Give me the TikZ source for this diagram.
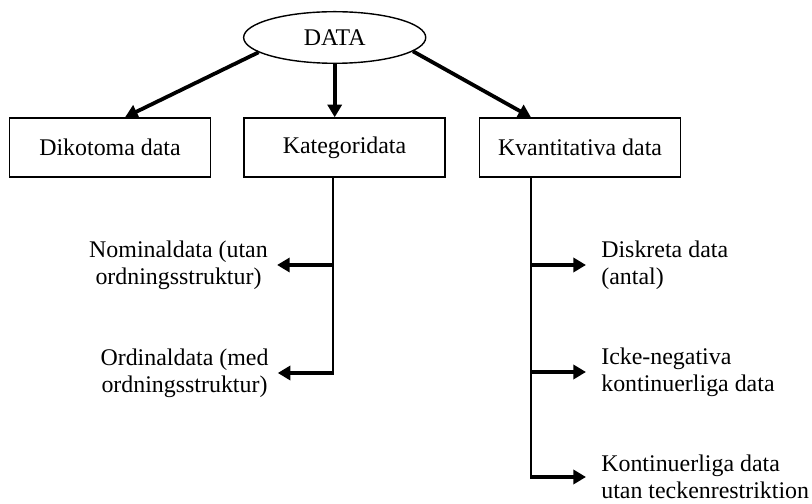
\documentclass[tikz,border=0pt]{standalone}
\usepackage{fontspec}
\setmainfont{Liberation Serif}
\usetikzlibrary{arrows.meta,shapes.geometric}

\tikzset{
  txt/.style={font=\fontsize{17}{19}\selectfont},
  box/.style={txt, draw, line width=1pt, minimum width=143pt, minimum height=42pt, inner sep=0pt},
  leftlab/.style={txt, align=center, inner xsep=6.4pt, inner ysep=0pt},
  rightlab/.style={txt, align=left, anchor=west, inner xsep=10.7pt, inner ysep=0pt},
  branch/.style={line width=1.3pt},
  thickarrow/.style={->, line width=2.3pt}
}

\begin{document}
\begin{tikzpicture}[x=0.025cm, y=-0.025cm, >={Triangle[length=9pt,width=10pt]}]
\useasboundingbox (0,0) rectangle (812,504);
%%%%% Top level %%%%%
\node[txt, ellipse, draw, line width=1pt, minimum width=129.5pt, minimum height=36.7pt, inner sep=0pt] (data) at (334.7,37.5) {DATA};
\node[box] (dik) at (110,147.5) {Dikotoma data};
\node[box] (kat) at (344.5,147.5) {Kategoridata};
\node[box] (kvant) at (580,147.5) {Kvantitativa data};
\coordinate (katbot) at (333,373);
\coordinate (kvbot) at (531,477);
\draw[thickarrow, line width=2.7pt] (data.191) -- ([xshift=10.7pt]dik.north);
\draw[thickarrow, line width=2.7pt] (data.south) -- (data.south |- kat.north);
\draw[thickarrow, line width=2.7pt] (data.350) -- (kvant.north -| kvbot);
%%%%% Kategoridata %%%%%
\node[leftlab] (nom) at (178.5,265) {Nominaldata (utan\\ordningsstruktur)};
\node[leftlab] (ord) at (184.5,373) {Ordinaldata (med\\ordningsstruktur)};
\draw[branch] (kat.south -| katbot) -- (katbot);
\foreach \n in {nom,ord}{
\draw[thickarrow] ([xshift=0.6pt]katbot |- \n.east) -- (\n.east);
}
%%%%% Kvantitativa data %%%%%
\node[rightlab] (disk) at (586,265) {Diskreta data\\(antal)};
\node[rightlab] (ickeneg) at (586,372) {Icke-negativa\\kontinuerliga data};
\node[rightlab] (kont) at (586,477) {Kontinuerliga data\\utan teckenrestriktion};
\draw[branch] (kvant.south -| kvbot) -- (kvbot);
\foreach \n in {disk,ickeneg,kont}{
\draw[thickarrow] ([xshift=-0.6pt]kvbot |- \n.west) -- (\n.west);
}
\end{tikzpicture}
\end{document}
